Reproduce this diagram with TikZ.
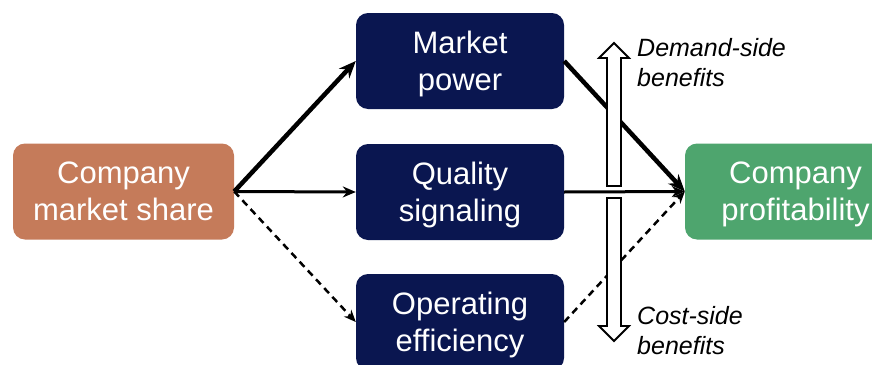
\documentclass[tikz,border=0pt]{standalone}
\usepackage{fontspec}
\setmainfont{Liberation Sans}
\usepackage{tikz}
\usetikzlibrary{arrows.meta}
\definecolor{navy}{RGB}{10,22,80}
\definecolor{terra}{RGB}{197,123,90}
\definecolor{leaf}{RGB}{78,165,110}

\tikzset{
	box/.style={draw=none, rounded corners=12pt, text=white, align=center,
		minimum width=208pt, minimum height=96pt, inner sep=0pt, text depth=0.5pt,
		font=\fontsize{31}{37}\selectfont},
	note/.style={anchor=west, align=left, inner sep=0pt,
		font=\fontsize{25}{30}\selectfont\itshape},
	hollow/.style={draw=black, fill=white, line width=1.8pt, line join=miter}
}

\begin{document}
\begin{tikzpicture}[x=1pt, y=-1pt]
				\useasboundingbox (0,0) rectangle (872,364);
				\node[box, fill=terra, minimum width=221pt] (share) at (123.5,191.5) {Company\\market share};
				\node[box, fill=navy] (power) at (460,61) {Market\\power};
				\node[box, fill=navy] (quality) at (460,192) {Quality\\signaling};
				\node[box, fill=navy] (efficiency) at (460,322) {Operating\\efficiency};
				\node[box, fill=leaf, minimum width=221pt] (profit) at (795.5,191.5) {Company\\profitability};
				% connectors
				\draw[line width=4.5pt, -{Stealth[length=17pt,width=14pt]}] (share.east) -- (power.west);
				\draw[line width=3pt, -{Stealth[length=13pt,width=11pt]}] (share.east) -- (quality.west);
				\draw[line width=2.5pt, dash pattern=on 7pt off 5pt, -{Stealth[length=12pt,width=10pt]}] (share.east) -- (efficiency.west);
				\draw[line width=4.5pt, -{Stealth[length=17pt,width=14pt]}] (power.east) -- (profit.west);
				\draw[line width=3pt, -{Stealth[length=13pt,width=11pt]}] (quality.east) -- (profit.west);
				\draw[line width=2.5pt, dash pattern=on 7pt off 5pt, -{Stealth[length=12pt,width=10pt]}] (efficiency.east) -- (profit.west);
				% demand side and cost side
				\draw[hollow] (607,186) -- (607,58) -- (599,58) -- (614,43) -- (629,58) -- (621,58) -- (621,186) -- cycle;
				\draw[hollow] (607,198) -- (607,326) -- (599,326) -- (614,341) -- (629,326) -- (621,326) -- (621,198) -- cycle;
				\node[note] (demand) at (637,63) {Demand-side\\benefits};
				\node[note] (cost) at (637,331) {Cost-side\\benefits};
			\end{tikzpicture}
\end{document}
